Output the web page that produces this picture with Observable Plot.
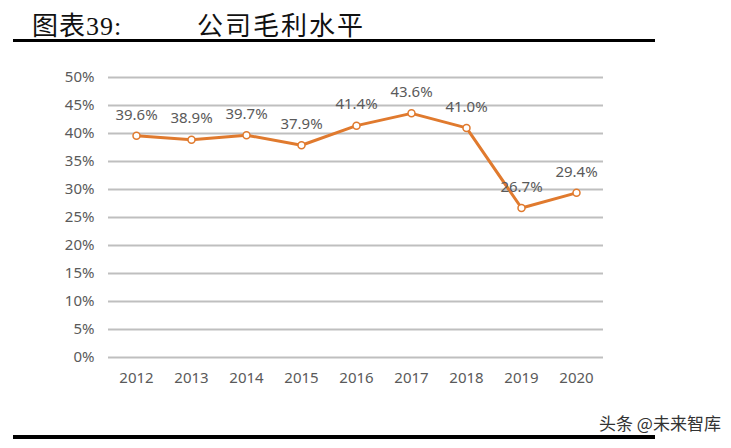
<!DOCTYPE html>
<html>
<head>
<meta charset="utf-8">
<script src="https://cdn.jsdelivr.net/npm/d3@7"></script>
<script src="https://cdn.jsdelivr.net/npm/@observablehq/plot@0.6"></script>
<style>
  body { margin: 0; background: #fff; }
  #wrap { position: relative; width: 731px; height: 448px; overflow: hidden; background: #fff; }
  #title1 { position: absolute; left: 32px; top: 5px; font: 26px "Liberation Serif", "Noto Sans CJK SC", serif; color: #111; letter-spacing: 1px; }
  #title2 { position: absolute; left: 197px; top: 5px; font: 26px "Noto Sans CJK SC", serif; color: #111; letter-spacing: 2px; }
  .rule { position: absolute; left: 13px; width: 642px; background: #000; }
  #chart { position: absolute; left: 0; top: 50px; }
  #wm { position: absolute; left: 599px; top: 410px; font: 17px "Noto Sans CJK SC", sans-serif; color: #333; letter-spacing: 0px; }
</style>
</head>
<body>
<div id="wrap">
  <div id="title1">图表39:</div>
  <div id="title2">公司毛利水平</div>
  <div class="rule" style="top:39px;height:3px;"></div>
  <div id="chart"></div>
  <div id="wm">头条 @未来智库</div>
  <div class="rule" style="top:435px;height:4px;"></div>
</div>
<script>
const years = ["2012","2013","2014","2015","2016","2017","2018","2019","2020"];
const margins = [39.6, 38.9, 39.7, 37.9, 41.4, 43.6, 41.0, 26.7, 29.4];
const yTicks = [0, 5, 10, 15, 20, 25, 30, 35, 40, 45, 50];

const data = years.map((y, i) => ({year: y, value: margins[i]}));
const orange = "#E07A2E";
const textGray = "#5a5a5a";

const chart = Plot.plot({
  width: 731,
  height: 345,
  marginLeft: 108,
  marginRight: 128,
  marginTop: 27,
  marginBottom: 38,
  style: {fontFamily: "'Noto Sans', sans-serif", fontSize: "15px", color: textGray, background: "transparent"},
  x: {type: "point", domain: years, padding: 0.5, label: null, tickSize: 0, tickPadding: 15},
  y: {domain: [0, 50], ticks: yTicks, tickFormat: d => d + "%", label: null, tickSize: 0, tickPadding: 14},
  marks: [
    Plot.ruleY(yTicks, {stroke: "#bfbfbf", strokeWidth: 2}),
    Plot.line(data, {x: "year", y: "value", stroke: orange, strokeWidth: 3}),
    Plot.dot(data, {x: "year", y: "value", r: 3.5, fill: "white", stroke: orange, strokeWidth: 1.5}),
    Plot.text(data, {x: "year", y: "value", text: d => d.value.toFixed(1) + "%", dy: -21, fill: textGray, fontSize: 15})
  ]
});
document.getElementById("chart").appendChild(chart);
</script>
</body>
</html>
